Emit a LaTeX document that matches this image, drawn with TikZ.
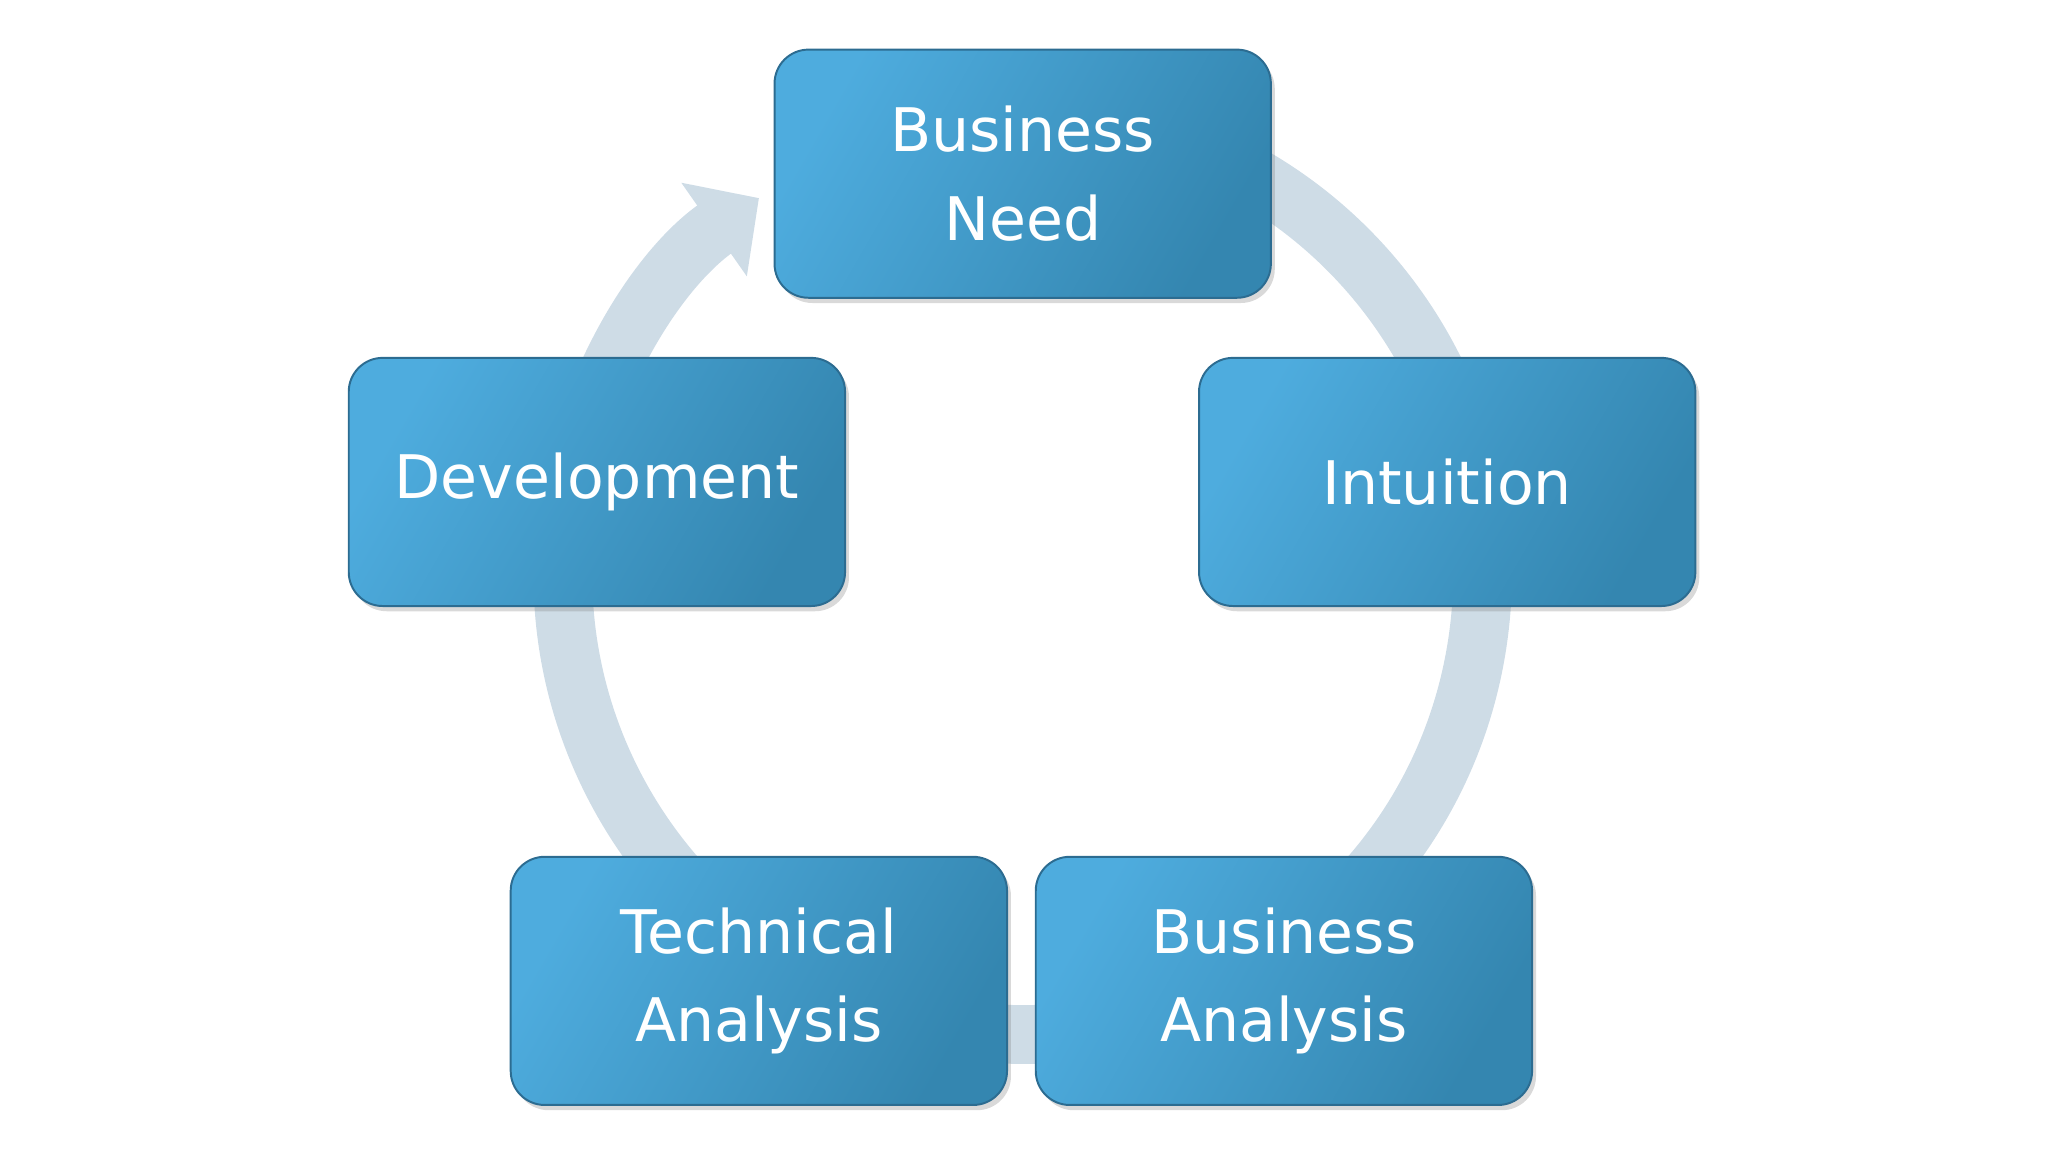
\documentclass[tikz,border=0pt]{standalone}
\usepackage{fontspec}
\setmainfont{DejaVu Sans}
\usetikzlibrary{arrows.meta,shadows}
\definecolor{ring}{RGB}{206,220,230}
\definecolor{boxA}{RGB}{78,172,222}
\definecolor{boxB}{RGB}{52,134,176}
\definecolor{boxE}{RGB}{44,108,145}
\tikzset{
  stage/.style={draw=boxE, line width=1.5pt, rounded corners=26pt,
    minimum width=380pt, minimum height=190pt, align=center,
    shading=axis, left color=boxA, right color=boxB, shading angle=60,
    text=white, font=\fontsize{46}{68}\selectfont,
    drop shadow={shadow xshift=3pt, shadow yshift=-4pt, opacity=0.3}}
}
\begin{document}
\begin{tikzpicture}[x=1pt,y=1pt]
\useasboundingbox (0,0) rectangle (1568,882);
\coordinate (c) at (783,442);
\draw[ring, line width=45pt, -{Triangle[width=85pt,length=42pt]}]
  ([shift={(80:352)}]c) arc[start angle=80, end angle=-235, radius=352];
\node[stage] (bn) at (783,749) {Business\\Need};
\node[stage] (in) at (1108,513) {Intuition};
\node[stage] (ba) at (983,131) {Business\\Analysis};
\node[stage] (ta) at (581,131) {Technical\\Analysis};
\node[stage] (dv) at (457,513) {Development};
\end{tikzpicture}
\end{document}
